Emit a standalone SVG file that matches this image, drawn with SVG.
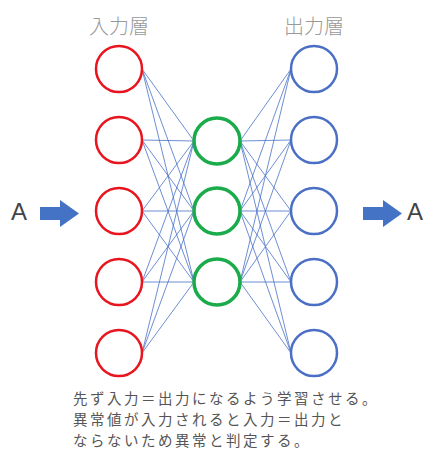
<svg xmlns="http://www.w3.org/2000/svg" width="429" height="450" viewBox="0 0 429 450">
  <style>
    .in { fill: #fff; stroke: #e8141e; stroke-width: 2.5; }
    .hid { fill: #fff; stroke: #1aab4a; stroke-width: 3.5; }
    .out { fill: #fff; stroke: #4a6fc4; stroke-width: 2.5; }
    .edge { stroke: #4a72c8; stroke-width: 1; stroke-opacity: 0.8; fill: none; }
    .layer { font-family: "Noto Sans CJK JP", "Noto Sans", sans-serif; font-size: 20px; fill: #999; text-anchor: middle; font-weight: 300; }
    .big { font-family: "Liberation Sans", "DejaVu Sans", sans-serif; font-size: 24px; fill: #444; }
    .note { font-family: "Noto Sans CJK JP", sans-serif; font-size: 14.5px; fill: #555; letter-spacing: 2.5px; }
    .arrow { fill: #4472c4; }
  </style>

  <!-- layer titles -->
  <text class="layer" x="119" y="34">入力層</text>
  <text class="layer" x="314" y="34">出力層</text>

  <!-- connectors: input→hidden and hidden→output, full mesh -->
  <g id="connectors">
    <!-- input 1 -->
    <line class="edge" x1="142" y1="69" x2="194" y2="141"/>
    <line class="edge" x1="142" y1="69" x2="194" y2="211"/>
    <line class="edge" x1="142" y1="69" x2="194" y2="282"/>
    <!-- input 2 -->
    <line class="edge" x1="142" y1="140" x2="194" y2="141"/>
    <line class="edge" x1="142" y1="140" x2="194" y2="211"/>
    <line class="edge" x1="142" y1="140" x2="194" y2="282"/>
    <!-- input 3 -->
    <line class="edge" x1="142" y1="211" x2="194" y2="141"/>
    <line class="edge" x1="142" y1="211" x2="194" y2="211"/>
    <line class="edge" x1="142" y1="211" x2="194" y2="282"/>
    <!-- input 4 -->
    <line class="edge" x1="142" y1="282" x2="194" y2="141"/>
    <line class="edge" x1="142" y1="282" x2="194" y2="211"/>
    <line class="edge" x1="142" y1="282" x2="194" y2="282"/>
    <!-- input 5 -->
    <line class="edge" x1="142" y1="353" x2="194" y2="141"/>
    <line class="edge" x1="142" y1="353" x2="194" y2="211"/>
    <line class="edge" x1="142" y1="353" x2="194" y2="282"/>
    <!-- hidden 1 -->
    <line class="edge" x1="240" y1="141" x2="291" y2="69"/>
    <line class="edge" x1="240" y1="141" x2="291" y2="140"/>
    <line class="edge" x1="240" y1="141" x2="291" y2="211"/>
    <line class="edge" x1="240" y1="141" x2="291" y2="282"/>
    <line class="edge" x1="240" y1="141" x2="291" y2="353"/>
    <!-- hidden 2 -->
    <line class="edge" x1="240" y1="211" x2="291" y2="69"/>
    <line class="edge" x1="240" y1="211" x2="291" y2="140"/>
    <line class="edge" x1="240" y1="211" x2="291" y2="211"/>
    <line class="edge" x1="240" y1="211" x2="291" y2="282"/>
    <line class="edge" x1="240" y1="211" x2="291" y2="353"/>
    <!-- hidden 3 -->
    <line class="edge" x1="240" y1="282" x2="291" y2="69"/>
    <line class="edge" x1="240" y1="282" x2="291" y2="140"/>
    <line class="edge" x1="240" y1="282" x2="291" y2="211"/>
    <line class="edge" x1="240" y1="282" x2="291" y2="282"/>
    <line class="edge" x1="240" y1="282" x2="291" y2="353"/>
  </g>

  <!-- input layer -->
  <g id="in1"><circle class="in" cx="119" cy="69" r="23"/></g>
  <g id="in2"><circle class="in" cx="119" cy="140" r="23"/></g>
  <g id="in3"><circle class="in" cx="119" cy="211" r="23"/></g>
  <g id="in4"><circle class="in" cx="119" cy="282" r="23"/></g>
  <g id="in5"><circle class="in" cx="119" cy="353" r="23"/></g>

  <!-- hidden layer -->
  <g id="hid1"><circle class="hid" cx="217" cy="141" r="23"/></g>
  <g id="hid2"><circle class="hid" cx="217" cy="211" r="23"/></g>
  <g id="hid3"><circle class="hid" cx="217" cy="282" r="23"/></g>

  <!-- output layer -->
  <g id="out1"><circle class="out" cx="314" cy="69" r="23"/></g>
  <g id="out2"><circle class="out" cx="314" cy="140" r="23"/></g>
  <g id="out3"><circle class="out" cx="314" cy="211" r="23"/></g>
  <g id="out4"><circle class="out" cx="314" cy="282" r="23"/></g>
  <g id="out5"><circle class="out" cx="314" cy="353" r="23"/></g>

  <!-- input signal -->
  <g id="input-a">
    <text class="big" x="11" y="220">A</text>
    <polygon class="arrow" points="40,207 60,207 60,200 79,213.5 60,227 60,220 40,220"/>
  </g>

  <!-- reconstructed output signal -->
  <g id="output-a">
    <polygon class="arrow" points="363,207 383,207 383,200 402,213.5 383,227 383,220 363,220"/>
    <text class="big" x="407" y="220">A</text>
  </g>

  <!-- explanation -->
  <g id="caption">
    <text class="note" x="73" y="404">先ず入力＝出力になるよう学習させる。</text>
    <text class="note" x="73" y="425">異常値が入力されると入力＝出力と</text>
    <text class="note" x="73" y="446">ならないため異常と判定する。</text>
  </g>
</svg>
